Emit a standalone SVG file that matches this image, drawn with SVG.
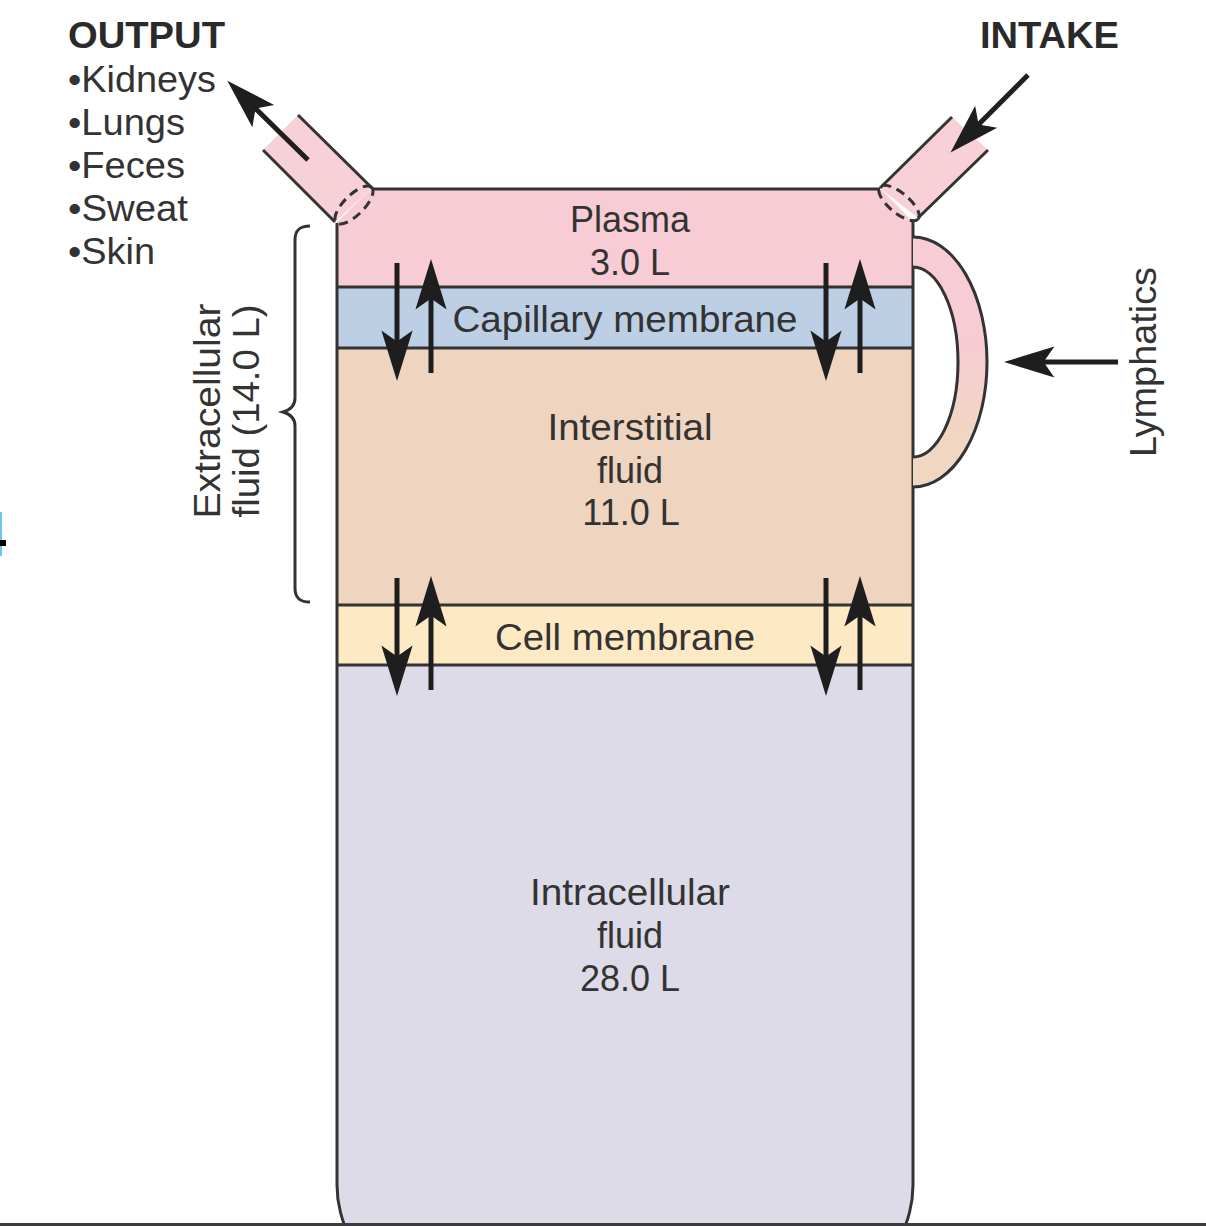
<svg xmlns="http://www.w3.org/2000/svg" width="1206" height="1226" viewBox="0 0 1206 1226">
<style>
text{font-family:"Liberation Sans",Arial,sans-serif;font-size:36px;fill:#333}
.b{font-weight:bold;fill:#2a2a2a}
.c{text-anchor:middle}
.ln{stroke:#333;stroke-width:3;fill:none}
.arr{stroke:#1e1e1e;stroke-width:5;fill:none;marker-end:url(#ah)}
.dash{stroke:#333;stroke-width:3;fill:none;stroke-dasharray:9 6}
</style>
<defs>
<marker id="ah" markerUnits="userSpaceOnUse" markerWidth="60" markerHeight="40" viewBox="-15 -15 50 30" refX="0" refY="0" orient="auto" overflow="visible">
<path d="M30,0 L-12,-13 L-3,0 L-12,13 Z" fill="#1e1e1e"/>
</marker>
<linearGradient id="hg" gradientUnits="userSpaceOnUse" x1="0" y1="237" x2="0" y2="487">
<stop offset="0" stop-color="#f7ccd4"/>
<stop offset="0.42" stop-color="#f7ccd4"/>
<stop offset="0.78" stop-color="#f1d6c1"/>
</linearGradient>
<clipPath id="cont">
<path d="M337,222 L370,190 H882 L913,222 V1185 C913,1205 908,1220 900,1240 H350 C342,1220 337,1205 337,1185 Z"/>
</clipPath>
</defs>

<g id="artifact">
<rect x="0" y="512" width="2" height="44" fill="#6cc6f0"/>
<rect x="0" y="540" width="6" height="6" fill="#000"/>
</g>

<g id="tubes">
<polygon points="298,115 372,188 335,222 263,150" fill="#f8d0d7"/>
<polygon points="952,117 988,150 918,218 880,188" fill="#f8d0d7"/>
<line class="ln" x1="298" y1="115" x2="372" y2="188"/>
<line class="ln" x1="263" y1="150" x2="335" y2="222"/>
<line class="ln" x1="952" y1="117" x2="880" y2="188"/>
<line class="ln" x1="988" y1="150" x2="918" y2="218"/>
</g>

<g id="container">
<g clip-path="url(#cont)">
<rect id="plasma" x="330" y="185" width="590" height="102" fill="#f7ccd4"/>
<rect id="capillary" x="330" y="287" width="590" height="61" fill="#bdcfe5"/>
<rect id="interstitial" x="330" y="348" width="590" height="257" fill="#efd4c0"/>
<rect id="cellmembrane" x="330" y="605" width="590" height="60" fill="#fde9c4"/>
<rect id="intracellular" x="330" y="665" width="590" height="580" fill="#dddbe7"/>
</g>
<path class="ln" d="M372,189 H880"/>
<path class="ln" d="M337,223 V1185 C337,1205 342,1220 350,1240"/>
<path class="ln" d="M913,222 V1185 C913,1205 908,1220 900,1240"/>
<line class="ln" x1="337" y1="287" x2="913" y2="287"/>
<line class="ln" x1="337" y1="348" x2="913" y2="348"/>
<line class="ln" x1="337" y1="605" x2="913" y2="605"/>
<line class="ln" x1="337" y1="665" x2="913" y2="665"/>
<ellipse class="dash" cx="0" cy="0" rx="25" ry="10" transform="translate(354,205) rotate(-45)"/>
<ellipse class="dash" cx="0" cy="0" rx="25" ry="10" transform="translate(899,203) rotate(40)"/>
</g>

<g id="lymph-handle">
<path d="M913,237 A74,125 0 0 1 913,487 L913,457 A45,95 0 0 0 913,267 Z" fill="url(#hg)"/>
<path class="ln" d="M913,237 A74,125 0 0 1 913,487"/>
<path class="ln" d="M913,267 A45,95 0 0 1 913,457"/>
</g>

<g id="brace">
<path class="ln" d="M310,226 C300,226 295,230 295,240 V398 C295,406 290,410 283,412 C290,414 295,418 295,426 V588 C295,598 300,602 310,602"/>
</g>

<g id="connectors">
<line class="arr" x1="308" y1="160" x2="253" y2="106"/>
<line class="arr" x1="1028" y1="75" x2="976" y2="127"/>
<line class="arr" x1="1118" y1="362" x2="1040" y2="362"/>
<line class="arr" x1="397" y1="263" x2="397" y2="345"/>
<line class="arr" x1="431" y1="373" x2="431" y2="295"/>
<line class="arr" x1="826" y1="263" x2="826" y2="345"/>
<line class="arr" x1="860" y1="373" x2="860" y2="295"/>
<line class="arr" x1="397" y1="578" x2="397" y2="660"/>
<line class="arr" x1="431" y1="690" x2="431" y2="612"/>
<line class="arr" x1="826" y1="578" x2="826" y2="660"/>
<line class="arr" x1="860" y1="690" x2="860" y2="612"/>
</g>

<g id="output-label">
<text class="b" x="68" y="48" textLength="157" lengthAdjust="spacingAndGlyphs">OUTPUT</text>
<text x="68" y="92" textLength="148" lengthAdjust="spacingAndGlyphs">•Kidneys</text>
<text x="68" y="135" textLength="117" lengthAdjust="spacingAndGlyphs">•Lungs</text>
<text x="68" y="178" textLength="117" lengthAdjust="spacingAndGlyphs">•Feces</text>
<text x="68" y="221" textLength="120" lengthAdjust="spacingAndGlyphs">•Sweat</text>
<text x="68" y="264" textLength="87" lengthAdjust="spacingAndGlyphs">•Skin</text>
</g>
<g id="intake-label">
<text class="b" x="980" y="48" textLength="139" lengthAdjust="spacingAndGlyphs">INTAKE</text>
</g>
<g id="band-labels">
<text class="c" x="630" y="232">Plasma</text>
<text class="c" x="630" y="275">3.0 L</text>
<text class="c" x="625" y="332" textLength="345" lengthAdjust="spacingAndGlyphs">Capillary membrane</text>
<text class="c" x="630" y="440" textLength="165" lengthAdjust="spacingAndGlyphs">Interstitial</text>
<text class="c" x="630" y="483">fluid</text>
<text class="c" x="631" y="525">11.0 L</text>
<text class="c" x="625" y="650" textLength="260" lengthAdjust="spacingAndGlyphs">Cell membrane</text>
<text class="c" x="630" y="905" textLength="200" lengthAdjust="spacingAndGlyphs">Intracellular</text>
<text class="c" x="630" y="948">fluid</text>
<text class="c" x="630" y="991">28.0 L</text>
</g>
<g id="extracellular-label">
<text class="c" transform="translate(220,411) rotate(-90)" textLength="215" lengthAdjust="spacingAndGlyphs">Extracellular</text>
<text class="c" transform="translate(259,411) rotate(-90)" textLength="213" lengthAdjust="spacingAndGlyphs">fluid (14.0 L)</text>
</g>
<g id="lymphatics-label">
<text class="c" transform="translate(1156,362) rotate(-90)" textLength="190" lengthAdjust="spacingAndGlyphs">Lymphatics</text>
</g>

<line x1="0" y1="1224.5" x2="1206" y2="1224.5" stroke="#3c3c3c" stroke-width="3"/>
</svg>
